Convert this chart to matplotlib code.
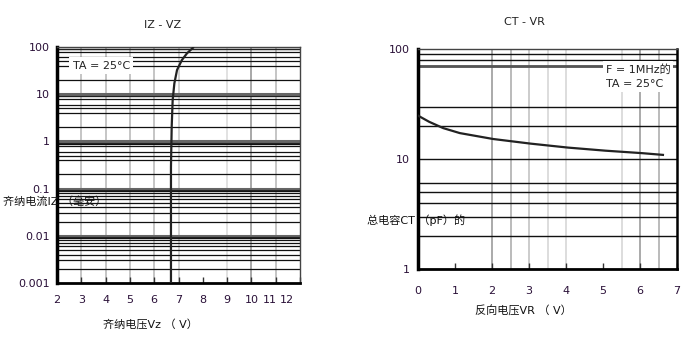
import matplotlib
matplotlib.use("Agg")
import matplotlib.pyplot as plt
import numpy as np

plt.rcParams['font.family'] = ['DejaVu Sans', 'Noto Sans CJK SC']

# ---- data: left chart (IZ - VZ) ----
iz_vz_v = [6.69, 6.69, 6.72, 6.76, 6.83, 6.94, 7.14, 7.35, 7.60]
iz_vz_i = [0.001, 0.29, 2.05, 7.5, 17.0, 32.6, 53.0, 73.6, 96.7]
left_xticks = [2, 3, 4, 5, 6, 7, 8, 9, 10, 11, 12]
left_xlabel_pos = [2, 3, 4, 5, 6, 7, 8, 9, 10, 10.74, 11.48]
left_yticks = [0.001, 0.01, 0.1, 1, 10, 100]
left_yticklabels = ["0.001", "0.01", "0.1", "1", "10", "100"]
left_minor_upper = [2, 4, 5, 6, 8, 9]
left_minor_lower = [2, 3, 4, 5, 6, 7, 8, 9]
left_vgrid = [3, 4, 5, 6, 7, 9, 10, 11]
left_vgrid_col = ['#bbbbbb', '#bbbbbb', '#bbbbbb', '#bbbbbb', '#cccccc', '#dddddd', '#999999', '#bbbbbb']

# ---- data: right chart (CT - VR) ----
ct_vr_v = [0.0, 0.3, 0.68, 1.13, 2.03, 3.04, 4.05, 5.07, 6.06, 6.62]
ct_vr_c = [24.8, 21.8, 19.1, 17.2, 15.2, 13.8, 12.7, 11.9, 11.3, 10.9]
right_xticks = [0, 1, 2, 3, 4, 5, 6, 7]
right_yticks = [1, 10, 100]
right_yticklabels = ["1", "10", "100"]
right_hlines = [2, 3, 4, 5, 6, 10, 20, 30, 70, 80, 90]
right_vgrid = [2, 2.5, 3, 3.5, 4, 5.5, 6, 6.5]
right_vgrid_col = ['#aaaaaa', '#bbbbbb', '#cccccc', '#dddddd', '#dddddd', '#dddddd', '#aaaaaa', '#bbbbbb']

tick_col = '#2a1038'
W, H = 688, 338
fig = plt.figure(figsize=(W / 100, H / 100), dpi=100)
fs = 8

def box(l, t, r, b):
    return [l / W, 1 - b / H, (r - l) / W, (b - t) / H]

# ---------------- Left chart ----------------
ax1 = fig.add_axes(box(57, 47, 300, 283))
ax1.set_yscale('log')
ax1.set_xlim(2, 12)
ax1.set_ylim(0.001, 100)
for xv, c in zip(left_vgrid, left_vgrid_col):
    ax1.axvline(xv, color=c, lw=1.2, zorder=1)
for dec in [0.001, 0.01, 0.1, 1, 10]:
    mins = left_minor_upper if dec >= 0.1 else left_minor_lower
    for m in mins:
        ax1.axhline(dec * m, color='#111111', lw=0.9, zorder=2)
for dec in [0.01, 0.1, 1, 10]:
    ax1.axhline(dec, color='#666666', lw=2.2, zorder=2)
    ax1.axhline(dec * 0.93, color='#222222', lw=0.8, zorder=2)
ax1.axhline(90, color='#222222', lw=0.9, zorder=2)
ax1.plot(iz_vz_v, iz_vz_i, color='#222222', lw=1.6, zorder=4)
ax1.set_xticks(left_xticks)
ax1.set_xticklabels([])
ax1.tick_params(axis='x', direction='in', length=4, width=1, color='#333333')
for pos, lab in zip(left_xlabel_pos, left_xticks):
    ax1.text(pos, -0.07, str(lab), transform=ax1.get_xaxis_transform(),
             ha='center', va='center', fontsize=fs, color=tick_col)
ax1.set_yticks(left_yticks)
ax1.set_yticklabels(left_yticklabels, fontsize=fs, color=tick_col)
ax1.yaxis.set_minor_locator(matplotlib.ticker.NullLocator())
ax1.tick_params(axis='y', length=0, pad=5)
ax1.spines['left'].set_linewidth(2.5)
ax1.spines['bottom'].set_linewidth(2)
ax1.spines['top'].set_linewidth(1)
ax1.spines['right'].set_linewidth(1)
ax1.spines['top'].set_color('#444444')
ax1.spines['right'].set_color('#444444')
ax1.text(2.65, 40, "TA = 25°C", fontsize=fs, color='#222222', va='center', ha='left',
         zorder=5, bbox=dict(facecolor='white', edgecolor='none', pad=2.5))

fig.text(163 / W, 1 - 25 / H, "IZ - VZ", fontsize=fs, ha='center', va='center', color='#222222')
fig.text(3 / W, 1 - 201 / H, "齐纳电流IZ （毫安）", fontsize=fs, ha='left', va='center', color='#111111')
fig.text(103 / W, 1 - 324 / H, "齐纳电压Vz （ V）", fontsize=fs, ha='left', va='center', color='#111111')

# ---------------- Right chart ----------------
ax2 = fig.add_axes(box(418, 49, 677, 269))
ax2.set_yscale('log')
ax2.set_xlim(0, 7)
ax2.set_ylim(1, 100)
for xv, c in zip(right_vgrid, right_vgrid_col):
    ax2.axvline(xv, color=c, lw=1.4, zorder=1)
for yv in right_hlines:
    ax2.axhline(yv, color='#111111', lw=1.0, zorder=2)
ax2.axhline(70, color='#555555', lw=2.0, zorder=2)
ax2.plot(ct_vr_v, ct_vr_c, color='#222222', lw=1.6, zorder=4)
ax2.set_xticks(right_xticks)
ax2.set_xticklabels([str(v) for v in right_xticks], fontsize=fs, color=tick_col)
ax2.tick_params(axis='x', direction='in', length=4, width=1, color='#333333', pad=12)
ax2.set_yticks(right_yticks)
ax2.set_yticklabels(right_yticklabels, fontsize=fs, color=tick_col)
ax2.yaxis.set_minor_locator(matplotlib.ticker.NullLocator())
ax2.tick_params(axis='y', length=0, pad=6)
ax2.spines['left'].set_linewidth(2.5)
ax2.spines['bottom'].set_linewidth(2)
ax2.spines['right'].set_linewidth(1.8)
ax2.spines['top'].set_linewidth(1)
ax2.spines['top'].set_color('#444444')
ax2.text(0.725, 0.875, "F = 1MHz的\nTA = 25°C", transform=ax2.transAxes, fontsize=fs,
         color='#222222', va='center', ha='left', linespacing=1.5,
         zorder=5, bbox=dict(facecolor='white', edgecolor='none', pad=2))

fig.text(524 / W, 1 - 22 / H, "CT - VR", fontsize=fs, ha='center', va='center', color='#222222')
fig.text(367 / W, 1 - 220 / H, "总电容CT （pF）的", fontsize=fs, ha='left', va='center', color='#111111')
fig.text(475 / W, 1 - 311 / H, "反向电压VR （ V）", fontsize=fs, ha='left', va='center', color='#111111')

fig.savefig("out.png", dpi=100)
